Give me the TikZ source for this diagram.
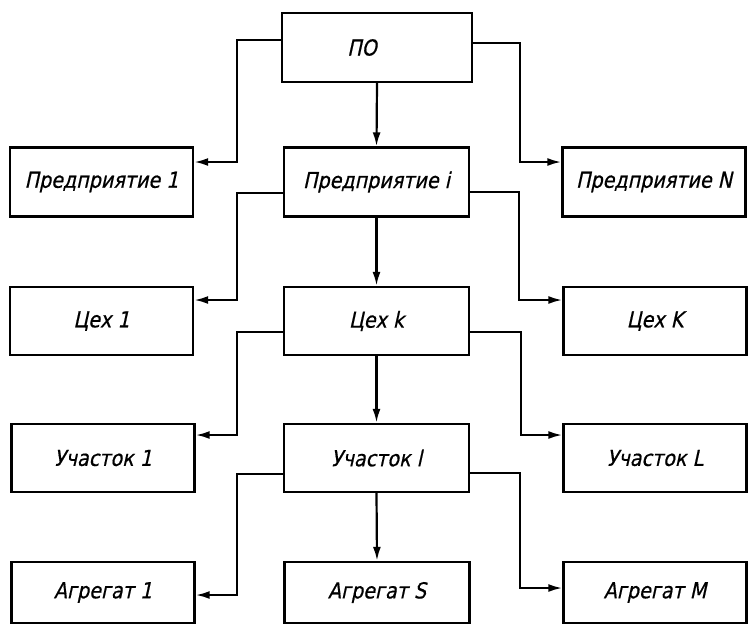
\documentclass[tikz,border=0pt]{standalone}
\usepackage{fontspec}
\setmainfont{DejaVu Sans}
\newfontfamily\gostfont{DejaVu Sans}[FakeSlant=0.22,FakeBold=0.6,FakeStretch=0.87]
\usetikzlibrary{arrows.meta}
\begin{document}
\begin{tikzpicture}[x=1pt,y=-1pt,
  box/.style={draw,line width=2.4pt,minimum width=183pt,minimum height=69pt,inner sep=0pt,
    font=\gostfont\fontsize{22}{24}\selectfont},
  conn/.style={line width=2.2pt,-{Latex[length=14pt,width=8pt]}}]
\useasboundingbox (0,0) rectangle (749,625);
% row 0
\node[box,minimum width=190pt] (po) at (377,47.5) {\hspace*{-30pt}ПО};
% row 1
\node[box] (p1) at (101.5,182) {Предприятие 1};
\node[box,minimum width=185pt] (pi) at (376.5,182) {Предприятие i};
\node[box] (pn) at (654,182) {Предприятие N};
% row 2
\node[box,minimum height=68pt] (c1) at (101.5,321) {Цех 1};
\node[box,minimum width=185pt,minimum height=68pt] (ck) at (376.5,321) {Цех k};
\node[box,minimum height=68pt] (cK) at (655,321) {Цех K};
% row 3
\node[box,minimum height=68pt] (u1) at (103,458) {Участок 1};
\node[box,minimum width=185pt,minimum height=68pt] (ul) at (376.5,458) {Участок l};
\node[box,minimum height=68pt] (uL) at (655,458) {Участок L};
% row 4
\node[box,minimum height=61pt] (a1) at (103,592.5) {Агрегат 1};
\node[box,minimum width=185pt,minimum height=61pt] (as) at (377,592.5) {Агрегат S};
\node[box,minimum height=61pt] (am) at (655,592.5) {Агрегат M};
% bend coordinates
\coordinate (l0a) at (237,40);  \coordinate (l0b) at (237,162);
\coordinate (r0a) at (520,43);  \coordinate (r0b) at (520,162);
\coordinate (l1a) at (237,193); \coordinate (l1b) at (237,300);
\coordinate (r1a) at (519,192); \coordinate (r1b) at (519,300);
\coordinate (l2a) at (237,332); \coordinate (l2b) at (237,435);
\coordinate (r2a) at (521,332); \coordinate (r2b) at (521,435);
\coordinate (l3a) at (237,474); \coordinate (l3b) at (237,595);
\coordinate (r3a) at (520,473); \coordinate (r3b) at (520,588);
% connectors
\draw[conn] (po.south) -- (pi.north);
\draw[conn] (pi.south) -- (ck.north);
\draw[conn] (ck.south) -- (ul.north);
\draw[conn] (ul.south) -- (as.north);
\draw[conn] (po.west|-l0a) -- (l0a) -- (l0b) -- (p1.east|-l0b);
\draw[conn] (po.east|-r0a) -- (r0a) -- (r0b) -- (pn.west|-r0b);
\draw[conn] (pi.west|-l1a) -- (l1a) -- (l1b) -- (c1.east|-l1b);
\draw[conn] (pi.east|-r1a) -- (r1a) -- (r1b) -- (cK.west|-r1b);
\draw[conn] (ck.west|-l2a) -- (l2a) -- (l2b) -- (u1.east|-l2b);
\draw[conn] (ck.east|-r2a) -- (r2a) -- (r2b) -- (uL.west|-r2b);
\draw[conn] (ul.west|-l3a) -- (l3a) -- (l3b) -- (a1.east|-l3b);
\draw[conn] (ul.east|-r3a) -- (r3a) -- (r3b) -- (am.west|-r3b);
\end{tikzpicture}
\end{document}
